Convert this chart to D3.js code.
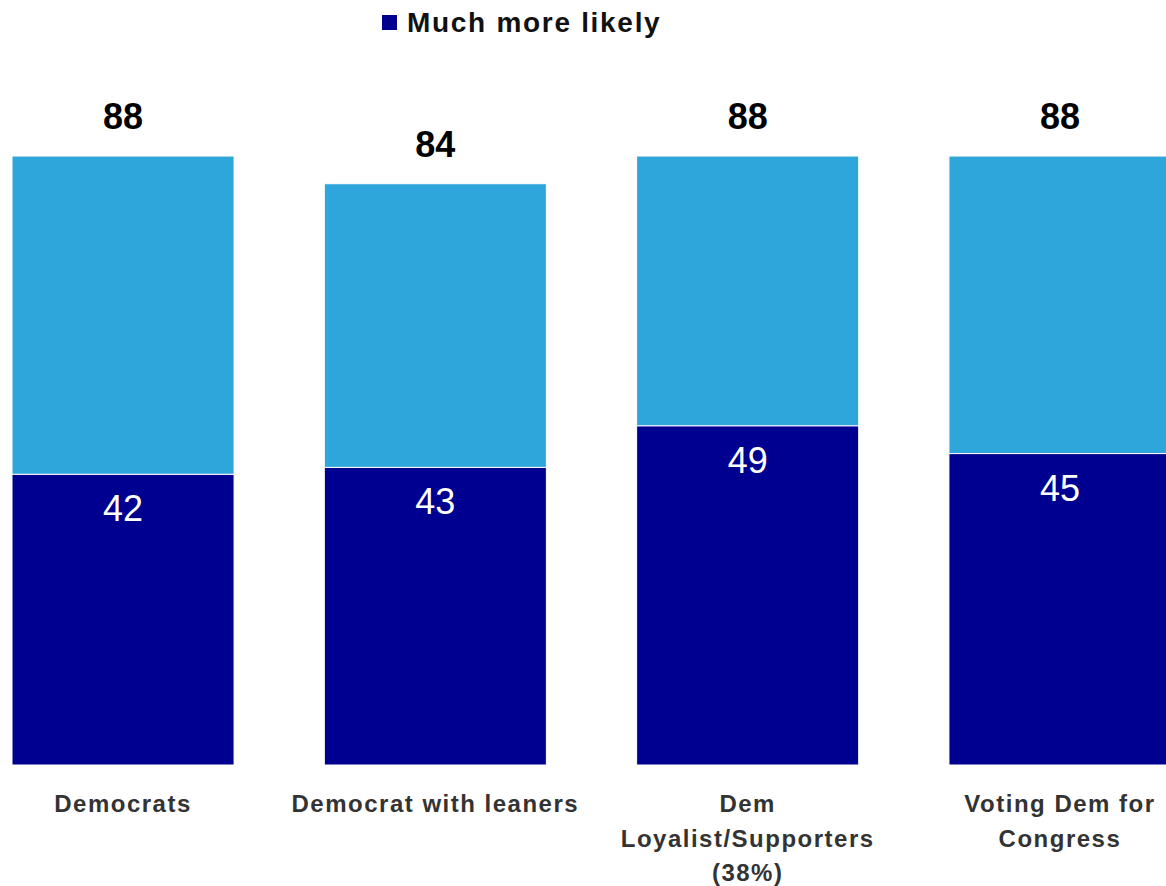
<!DOCTYPE html>
<html>
<head>
<meta charset="utf-8">
<script src="https://cdn.jsdelivr.net/npm/d3@7"></script>
<style>
  html, body { margin: 0; padding: 0; background: #fff; }
  svg { display: block; font-family: "Liberation Sans", Arial, sans-serif; }
</style>
</head>
<body>
<svg id="chart" width="1166" height="886"></svg>
<script>
const categories = [
  ["Democrats"],
  ["Democrat with leaners"],
  ["Dem", "Loyalist/Supporters", "(38%)"],
  ["Voting Dem for", "Congress"]
];
const muchMoreLikely = [42, 43, 49, 45];
const totalMoreLikely = [88, 84, 88, 88];
const legendLabel = "Much more likely";

const colors = { much: "#000090", some: "#2EA6DC" };

const svg = d3.select("#chart");
const keys = categories.map((c, i) => i);

const x = d3.scaleBand().domain(keys).range([12, 1171]).paddingInner(0.289).paddingOuter(0);
const y = d3.scaleLinear().domain([0, 100]).range([765, 73]);

const data = keys.map(i => ({ i, much: muchMoreLikely[i], total: totalMoreLikely[i] }));

// Upper (light) segments
svg.append("g").selectAll("rect").data(data).join("rect")
  .attr("x", d => x(d.i))
  .attr("width", x.bandwidth())
  .attr("y", d => y(d.total))
  .attr("height", d => y(d.much) - y(d.total))
  .attr("fill", colors.some)
  .attr("stroke", "#fff").attr("stroke-width", 1);

// Lower (dark) segments
svg.append("g").selectAll("rect").data(data).join("rect")
  .attr("x", d => x(d.i))
  .attr("width", x.bandwidth())
  .attr("y", d => y(d.much))
  .attr("height", d => y(0) - y(d.much))
  .attr("fill", colors.much)
  .attr("stroke", "#fff").attr("stroke-width", 1);

// Inner labels
svg.append("g").selectAll("text").data(data).join("text")
  .attr("x", d => x(d.i) + x.bandwidth() / 2)
  .attr("y", d => y(d.much) + 47)
  .attr("text-anchor", "middle")
  .attr("fill", "#fff")
  .attr("font-size", 36)
  .text(d => d.much);

// Total labels
svg.append("g").selectAll("text").data(data).join("text")
  .attr("x", d => x(d.i) + x.bandwidth() / 2)
  .attr("y", d => y(d.total) - 27)
  .attr("text-anchor", "middle")
  .attr("fill", "#000")
  .attr("font-size", 36)
  .attr("font-weight", "bold")
  .text(d => d.total);

// Category labels
const cat = svg.append("g").selectAll("text").data(data).join("text")
  .attr("text-anchor", "middle")
  .attr("fill", "#333")
  .attr("font-size", 24)
  .attr("font-weight", "bold")
  .attr("letter-spacing", 1.5);
cat.each(function(d) {
  const t = d3.select(this);
  categories[d.i].forEach((line, k) => {
    t.append("tspan")
      .attr("x", x(d.i) + x.bandwidth() / 2)
      .attr("y", 812 + k * 34.5)
      .text(line);
  });
});

// Legend
const lg = svg.append("g");
lg.append("rect").attr("x", 382).attr("y", 15).attr("width", 15).attr("height", 15).attr("fill", colors.much);
lg.append("text").attr("x", 407).attr("y", 32)
  .attr("font-size", 28).attr("font-weight", "bold").attr("fill", "#111")
  .attr("letter-spacing", 1.7)
  .text(legendLabel);
</script>
</body>
</html>
